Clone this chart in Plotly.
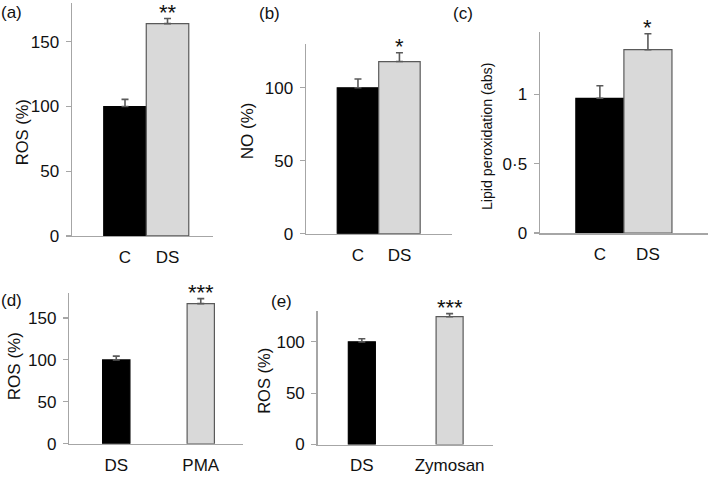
import plotly.graph_objects as go

W, H = 709, 478

# ---- data ----
a_cats = ["C", "DS"]
a_vals = [100, 164]
a_err = [5.5, 4]

b_cats = ["C", "DS"]
b_vals = [100, 118]
b_err = [6, 6]

c_cats = ["C", "DS"]
c_vals = [0.97, 1.32]
c_err = [0.09, 0.115]

d_cats = ["DS", "PMA"]
d_vals = [100, 167]
d_err = [4.5, 6]

e_cats = ["DS", "Zymosan"]
e_vals = [100, 124.5]
e_err = [3, 3]

stars = {"a": "**", "b": "*", "c": "*", "d": "***", "e": "***"}
y_titles = {"a": "ROS (%)", "b": "NO (%)", "c": "Lipid peroxidation (abs)",
            "d": "ROS (%)", "e": "ROS (%)"}
a_ticks = [0, 50, 100, 150]
b_ticks = [0, 50, 100]
c_ticks = [0, 0.5, 1]
c_ticktext = ["0", "0·5", "1"]
d_ticks = [0, 50, 100, 150]
e_ticks = [0, 50, 100]

# ---- layout geometry (pixels) ----
panels = [
    # key, cats, vals, err, ticks, ticktext, ymax, x0, x1, ybot, ytop, xrange, barwidth
    ("a", a_cats, a_vals, a_err, a_ticks, None, 180, 72, 213, 241, 3, [-1.247, 2.07], 1.0),
    ("b", b_cats, b_vals, b_err, b_ticks, None, 130, 306, 451.7, 238.7, 45, [-1.253, 2.26], 1.0),
    ("c", c_cats, c_vals, c_err, c_ticks, c_ticktext, 1.45, 540, 708, 238, 32.3, [-1.246, 2.25], 1.0),
    ("d", d_cats, d_vals, d_err, d_ticks, None, 180, 69.3, 243, 453.3, 299, [-0.556, 1.5], 0.323),
    ("e", e_cats, e_vals, e_err, e_ticks, None, 130, 317.7, 492.7, 454, 317.7, [-0.503, 1.491], 0.308),
]
title_pos = {"a": (22, 135), "b": (247, 134), "c": (487, 140), "d": (14, 374), "e": (264, 389)}
title_size = {"a": 16.5, "b": 17, "c": 14.2, "d": 17, "e": 16.5}
label_pos = {"a": (11, 13), "b": (269, 14), "c": (463, 14), "d": (11, 307), "e": (281, 308)}

FONT = "Liberation Sans, Arial, Helvetica, sans-serif"
TXT = "#111111"
AXC = "#a6a6a6"

fig = go.Figure()
annotations = []
layout_axes = {}

for i, (key, cats, vals, err, ticks, ticktext, ymax, x0, x1, yb, yt, xr, bw) in enumerate(panels):
    n = i + 1
    xa = "x" if n == 1 else f"x{n}"
    ya = "y" if n == 1 else f"y{n}"
    fig.add_trace(go.Bar(
        x=cats, y=vals, xaxis=xa, yaxis=ya, width=bw,
        marker=dict(color=["#000000", "#d9d9d9"],
                    line=dict(color=["#000000", "#5a5a5a"], width=1.2)),
        error_y=dict(type="data", symmetric=False, array=err, arrayminus=[0] * len(err),
                     color="#5a5a5a", thickness=1.6, width=3.5),
        showlegend=False, hoverinfo="skip",
    ))
    xkey = "xaxis" if n == 1 else f"xaxis{n}"
    ykey = "yaxis" if n == 1 else f"yaxis{n}"
    layout_axes[xkey] = dict(
        domain=[x0 / W, x1 / W], anchor=ya, type="category", range=xr,
        showline=True, linecolor=AXC, linewidth=1.5, showgrid=False, zeroline=False,
        ticks="", ticklabelstandoff=5,
        tickfont=dict(family=FONT, size=17, color=TXT), fixedrange=True,
    )
    layout_axes[ykey] = dict(
        domain=[1 - yb / H, 1 - yt / H], anchor=xa, range=[0, ymax],
        tickvals=ticks, ticktext=ticktext if ticktext else [str(t) for t in ticks],
        showline=True, linecolor=AXC, linewidth=1.5, showgrid=False, zeroline=False,
        ticks="outside", ticklen=5, tickwidth=1.2, tickcolor=AXC, ticklabelstandoff=3,
        tickfont=dict(family=FONT, size=17, color=TXT), fixedrange=True,
    )
    # significance stars
    annotations.append(dict(
        x=cats[1], y=vals[1] + err[1], xref=xa, yref=ya, text=stars[key],
        showarrow=False, yanchor="middle", yshift=6,
        font=dict(family=FONT, size=22, color=TXT),
    ))
    # y titles
    tx, ty = title_pos[key]
    annotations.append(dict(
        x=tx / W, y=1 - ty / H, xref="paper", yref="paper", text=y_titles[key],
        textangle=-90, showarrow=False, xanchor="center", yanchor="middle",
        font=dict(family=FONT, size=title_size[key], color=TXT),
    ))
    # panel labels
    lx, ly = label_pos[key]
    annotations.append(dict(
        x=lx / W, y=1 - ly / H, xref="paper", yref="paper", text=f"({key})",
        showarrow=False, xanchor="center", yanchor="middle",
        font=dict(family=FONT, size=17, color=TXT),
    ))

fig.update_layout(
    width=W, height=H, margin=dict(l=0, r=0, t=0, b=0),
    paper_bgcolor="white", plot_bgcolor="white",
    annotations=annotations, bargap=0, **layout_axes,
)

fig.write_html("out.html", config={"displayModeBar": False, "staticPlot": True},
               post_script="document.body.style.margin='0px';document.body.style.overflow='hidden';")
